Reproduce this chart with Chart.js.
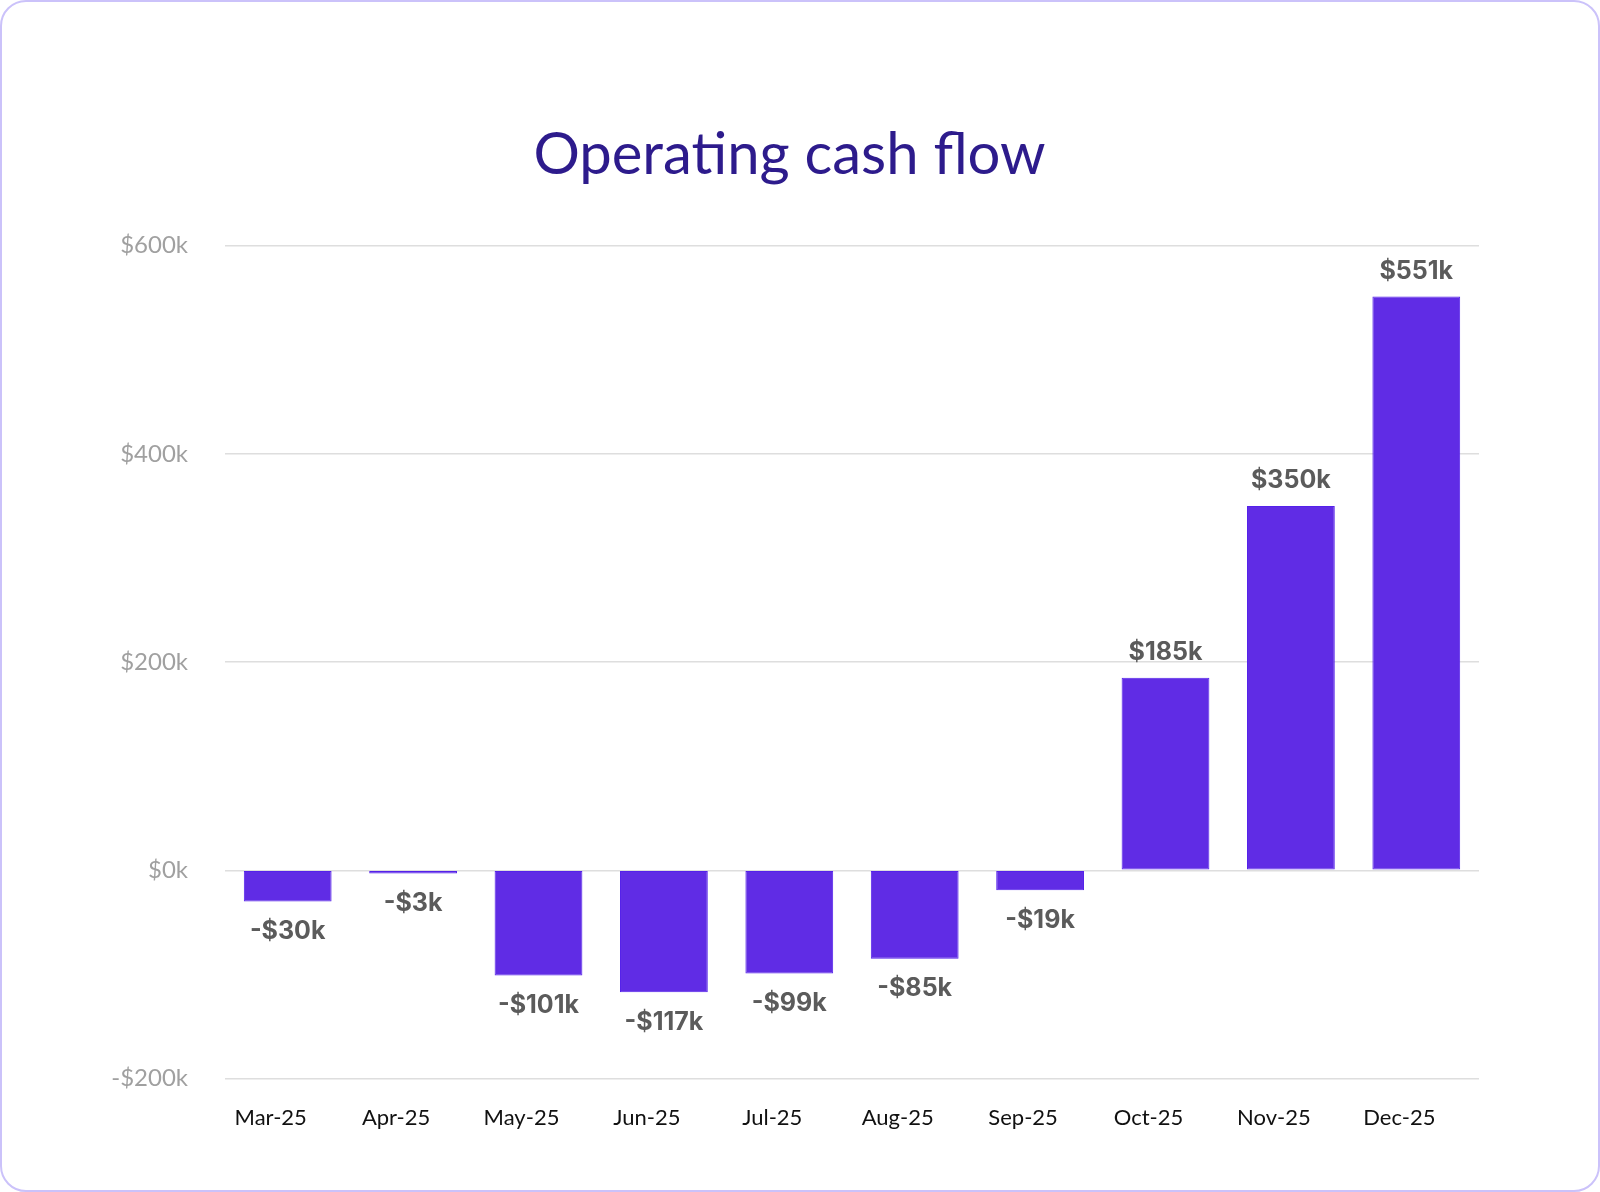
<!DOCTYPE html>
<html>
<head>
<meta charset="utf-8">
<title>Operating cash flow</title>
<script src="https://cdn.jsdelivr.net/npm/chart.js@4.4.1/dist/chart.umd.min.js"></script>
<style>
  html, body { margin: 0; padding: 0; background: #fff; }
  #card {
    position: absolute; left: 0; top: 0;
    width: 1600px; height: 1192px;
    box-sizing: border-box;
    border: 2px solid #cbc2fa;
    border-radius: 26px;
    pointer-events: none;
  }
  #cashFlowChart { position: absolute; left: 0; top: 0; }
</style>
</head>
<body>
<canvas id="cashFlowChart" width="1600" height="1192"></canvas>
<div id="card"></div>
<script>
const months = ['Mar-25', 'Apr-25', 'May-25', 'Jun-25', 'Jul-25', 'Aug-25', 'Sep-25', 'Oct-25', 'Nov-25', 'Dec-25'];
const cashFlow = [-30, -3, -101, -117, -99, -85, -19, 185, 350, 551]; // $k
const yMin = -200;
const yMax = 600;
const yStep = 200;

function money(v) {
  return (v < 0 ? '-' : '') + '$' + Math.abs(v) + 'k';
}

document.addEventListener('DOMContentLoaded', () => {
  // value labels above / below each bar
  const barLabels = {
    id: 'barLabels',
    afterDatasetsDraw(chart) {
      const ctx = chart.ctx;
      const meta = chart.getDatasetMeta(0);
      ctx.save();
      ctx.font = 'bold 25px Inter, "Noto Sans", sans-serif';
      ctx.fillStyle = '#5b5b5b';
      ctx.textAlign = 'center';
      ctx.textBaseline = 'middle';
      meta.data.forEach((bar, i) => {
        const v = cashFlow[i];
        const y = v >= 0 ? bar.y - 25 : bar.y + 30;
        ctx.fillText(money(v), bar.x, y);
      });
      ctx.restore();
    }
  };

  const ctx = document.getElementById('cashFlowChart').getContext('2d');

  new Chart(ctx, {
    type: 'bar',
    data: {
      labels: months,
      datasets: [{
        label: 'Operating cash flow',
        data: cashFlow,
        backgroundColor: '#602ce5',
        borderColor: '#5421ea',
        borderWidth: 1,
        borderSkipped: false,
        categoryPercentage: 1,
        barPercentage: 0.7
      }]
    },
    plugins: [barLabels],
    options: {
      responsive: false,
      animation: false,
      devicePixelRatio: 1,
      layout: {
        padding: { left: 100, right: 121, top: 0, bottom: 43 }
      },
      plugins: {
        legend: { display: false },
        tooltip: { enabled: false },
        title: {
          display: true,
          text: 'Operating cash flow',
          color: '#2d1b8c',
          font: { family: 'Lato, "Noto Sans", sans-serif', size: 58, weight: 'normal', lineHeight: 1.2 },
          padding: { top: 120, bottom: 56 }
        }
      },
      scales: {
        x: {
          grid: { display: false },
          border: { display: false },
          ticks: {
            color: '#111',
            padding: 18,
            labelOffset: -17,
            font: { family: 'Lato, "Noto Sans", sans-serif', size: 22 }
          }
        },
        y: {
          min: yMin,
          max: yMax,
          afterFit: (scale) => { scale.width = 125; },
          grid: { color: '#dedede', lineWidth: 1.5, drawTicks: false },
          border: { display: false },
          ticks: {
            stepSize: yStep,
            color: '#a0a0a0',
            padding: 37,
            font: { family: 'Lato, "Noto Sans", sans-serif', size: 24 },
            callback: (v) => money(v)
          }
        }
      }
    }
  });
});
</script>
</body>
</html>
